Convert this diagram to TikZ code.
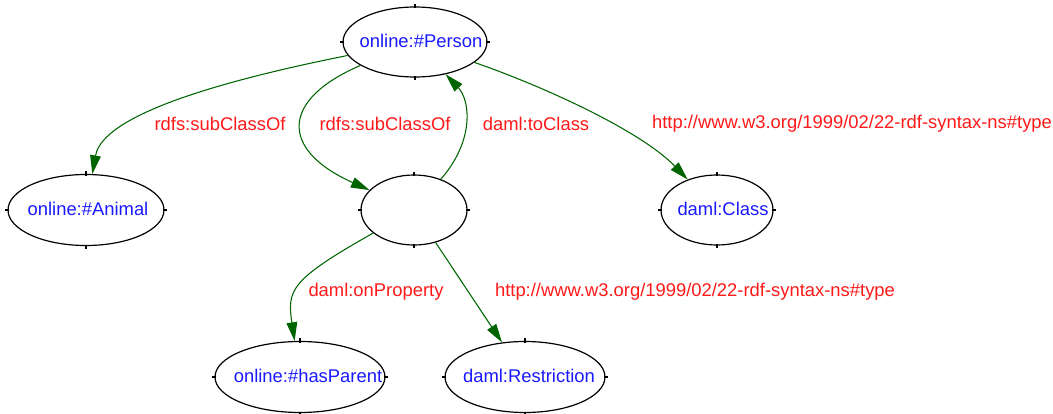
\documentclass[tikz,border=0pt]{standalone}
\usepackage{fontspec}
\setmainfont{Liberation Sans}
\usetikzlibrary{shapes.geometric,arrows.meta}
\definecolor{edgegreen}{RGB}{0,100,0}
\definecolor{nodeblue}{RGB}{25,25,255}
\definecolor{labelred}{RGB}{255,25,25}
\begin{document}
\begin{tikzpicture}[x=0.75pt,y=-0.75pt,
  ent/.style={ellipse, draw=black, line width=0.9pt, inner sep=0pt},
  nodetext/.style={text=nodeblue, font=\fontsize{13.8}{16}\selectfont, inner sep=0pt},
  lbl/.style={text=labelred, font=\fontsize{13.8}{16}\selectfont, inner sep=0pt},
  rel/.style={draw=edgegreen, line width=0.8pt, -{Triangle[length=14pt,width=8pt]}},
  tickmark/.style={draw=black, line width=0.9pt}]
\useasboundingbox (0,0) rectangle (1053,414);
% entity ellipses
\node[ent, minimum width=108pt, minimum height=52.5pt] (person) at (415,42) {};
\node[ent, minimum width=117pt, minimum height=53.25pt] (animal) at (86,210) {};
\node[ent, minimum width=79.5pt, minimum height=52.5pt] (blank) at (414,210) {};
\node[ent, minimum width=84pt, minimum height=52.5pt] (class) at (717,210) {};
\node[ent, minimum width=127.5pt, minimum height=53.25pt] (hasparent) at (300,377) {};
\node[ent, minimum width=120pt, minimum height=53.25pt] (restriction) at (525,377) {};
% small ticks on the ellipses
\foreach \n in {person,animal,blank,class,hasparent,restriction}{
  \draw[tickmark] ([yshift=-1.2pt]\n.north) -- ([yshift=2pt]\n.north);
  \draw[tickmark] ([yshift=1.2pt]\n.south) -- ([yshift=-2pt]\n.south);
  \draw[tickmark] ([xshift=-1.2pt]\n.east) -- ([xshift=2pt]\n.east);
  \draw[tickmark] ([xshift=1.2pt]\n.west) -- ([xshift=-2pt]\n.west);
}
% node texts
\node[nodetext] (persontext) at (421,41) {online:\#Person};
\node[nodetext] (animaltext) at (88,209) {online:\#Animal};
\node[nodetext] (classtext) at (723,209) {daml:Class};
\node[nodetext] (hasparenttext) at (308,376) {online:\#hasParent};
\node[nodetext] (restrictiontext) at (529,376) {daml:Restriction};
% connectors
\draw[rel] (person) .. controls (150,95) and (100,130) .. (animal);
\draw[rel] (person) .. controls (280,100) and (280,150) .. (blank);
\draw[rel] (blank) .. controls (475,140) and (470,100) .. (person);
\draw[rel] (person) .. controls (540,85) and (640,130) .. (class);
\draw[rel] (blank) .. controls (290,280) and (287,290) .. (hasparent);
\draw[rel] (blank) -- (restriction);
% connector labels
\node[lbl] (l1) at (220,124) {rdfs:subClassOf};
\node[lbl] (l2) at (385,124) {rdfs:subClassOf};
\node[lbl] (l3) at (536,124) {daml:toClass};
\node[lbl] (l4) at (852,124) {http://www.w3.org/1999/02/22-rdf-syntax-ns\#type};
\node[lbl] (l5) at (376,292) {daml:onProperty};
\node[lbl] (l6) at (695,292) {http://www.w3.org/1999/02/22-rdf-syntax-ns\#type};
\end{tikzpicture}
\end{document}
